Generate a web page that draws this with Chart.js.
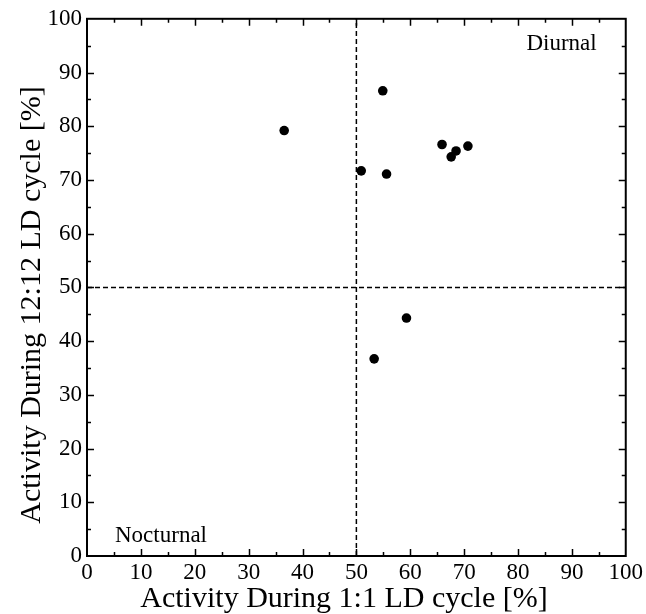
<!DOCTYPE html>
<html>
<head>
<meta charset="utf-8">
<script src="https://cdn.jsdelivr.net/npm/chart.js@4/dist/chart.umd.min.js"></script>
<style>
  html, body { margin: 0; padding: 0; background: #fff; }
  canvas { display: block; }
</style>
</head>
<body>
<canvas id="chart" width="646" height="614"></canvas>
<script>
  'use strict';

  // activity share (%) per animal: 1:1 LD cycle vs 12:12 LD cycle
  const lightShort = [36.6, 54.9, 50.9, 55.6, 65.9, 67.6, 68.5, 70.7, 59.3, 53.3];
  const lightLong  = [79.2, 86.6, 71.7, 71.1, 76.6, 74.3, 75.4, 76.3, 44.3, 36.7];

  // 50 % divider lines
  const splitV = [{ x: 50, y: 0 }, { x: 50, y: 100 }];
  const splitH = [{ x: 0, y: 50 }, { x: 100, y: 50 }];

  const X_TITLE = 'Activity During 1:1 LD cycle [%]';
  const Y_TITLE = 'Activity During 12:12 LD cycle [%]';
  const SERIF = '"Liberation Serif", "DejaVu Serif", serif';
  const TICK = { font: { family: SERIF, size: 23 }, color: '#000' };

  // frame, inward ticks on all four sides, axis titles, quadrant notes
  const framePlugin = {
    id: 'frame',
    afterDraw(chart) {
      const { ctx, chartArea: a, scales: { x, y } } = chart;
      ctx.save();
      ctx.strokeStyle = '#000';
      ctx.lineWidth = 2;
      ctx.strokeRect(a.left, a.top, a.right - a.left, a.bottom - a.top);

      ctx.lineWidth = 1.5;
      ctx.beginPath();
      for (let v = 5; v < 100; v += 5) {
        const len = v % 10 === 0 ? 7 : 4;
        const px = Math.round(x.getPixelForValue(v)) + 0.5;
        const py = Math.round(y.getPixelForValue(v)) + 0.5;
        ctx.moveTo(px, a.bottom); ctx.lineTo(px, a.bottom - len);
        ctx.moveTo(px, a.top);    ctx.lineTo(px, a.top + len);
        ctx.moveTo(a.left, py);   ctx.lineTo(a.left + len, py);
        ctx.moveTo(a.right, py);  ctx.lineTo(a.right - len, py);
      }
      ctx.stroke();

      ctx.fillStyle = '#000';
      ctx.font = '30px ' + SERIF;
      ctx.textAlign = 'center';
      ctx.textBaseline = 'alphabetic';
      ctx.fillText(X_TITLE, 344, 607);

      ctx.save();
      ctx.translate(40, 305);
      ctx.rotate(-Math.PI / 2);
      ctx.fillText(Y_TITLE, 0, 0);
      ctx.restore();

      ctx.font = '23px ' + SERIF;
      ctx.textAlign = 'right';
      ctx.fillText('Diurnal', x.getPixelForValue(94.6), y.getPixelForValue(94.1));
      ctx.textAlign = 'left';
      ctx.fillText('Nocturnal', x.getPixelForValue(5.2), y.getPixelForValue(2.6));
      ctx.restore();
    }
  };

  const dashed = data => ({
    data, showLine: true, borderColor: '#000', borderWidth: 1.5,
    borderDash: [5, 3], pointRadius: 0, pointHoverRadius: 0
  });

  new Chart(document.getElementById('chart'), {
    type: 'scatter',
    data: {
      datasets: [
        dashed(splitV),
        dashed(splitH),
        {
          data: lightShort.map((v, i) => ({ x: v, y: lightLong[i] })),
          backgroundColor: '#000', borderWidth: 0, pointRadius: 4.8
        }
      ]
    },
    options: {
      responsive: false,
      animation: false,
      events: [],
      layout: { padding: { top: 15, right: 20, left: 0, bottom: 0 } },
      plugins: { legend: { display: false }, tooltip: { enabled: false } },
      scales: {
        x: {
          min: 0, max: 100,
          ticks: { ...TICK, stepSize: 10, padding: 3, maxRotation: 0, autoSkip: false },
          grid: { display: false, drawTicks: false },
          border: { display: false },
          afterFit: s => { s.height = 58; }
        },
        y: {
          min: 0, max: 100,
          ticks: { ...TICK, stepSize: 10, padding: 5, autoSkip: false },
          grid: { display: false, drawTicks: false },
          border: { display: false },
          afterFit: s => { s.width = 87; }
        }
      }
    },
    plugins: [framePlugin]
  });
</script>
</body>
</html>
